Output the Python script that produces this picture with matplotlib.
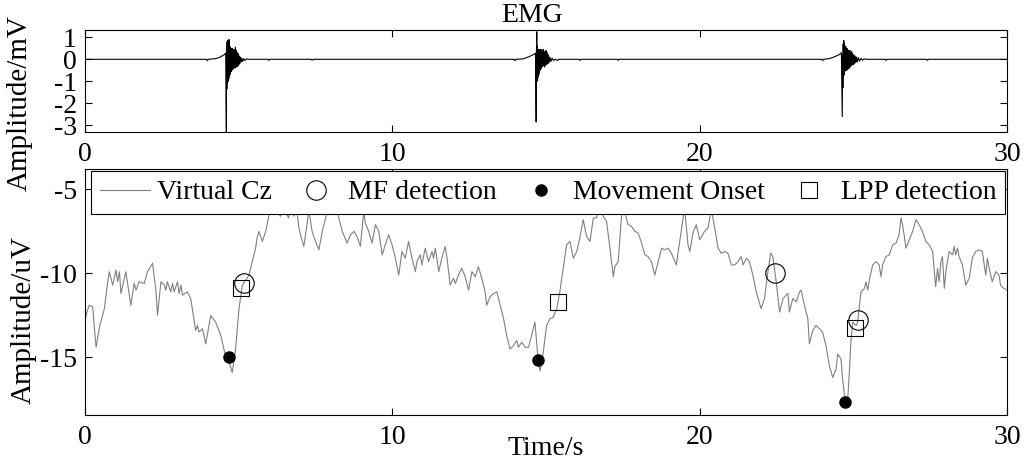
import matplotlib
matplotlib.use("Agg")
import matplotlib.pyplot as plt

plt.rcParams['font.family'] = ['Liberation Serif', 'DejaVu Serif']
plt.rcParams['axes.unicode_minus'] = False

# ---------------- Virtual Cz (time s, amplitude uV) ----------------
cz_t = [0.00, 0.08, 0.14, 0.25, 0.36, 0.47, 0.63, 0.74, 0.79, 0.90, 1.01, 1.06, 1.12, 1.17, 1.33, 1.44, 1.49,
        1.60, 1.66, 1.76, 1.93, 2.03, 2.20, 2.31, 2.36, 2.47, 2.58, 2.63, 2.68, 2.79, 2.85, 2.90, 3.01, 3.06,
        3.12, 3.17, 3.33, 3.44, 3.60, 3.66, 3.71, 3.82, 3.93, 4.09, 4.25, 4.42, 4.58, 4.69, 4.79, 4.90, 5.01,
        5.12, 5.23, 5.34, 5.44, 5.55, 5.61, 5.66, 5.77, 5.88, 5.99, 6.10, 6.25, 6.36, 6.45, 6.55, 6.62, 6.70,
        6.80, 6.88, 6.96, 7.01, 7.12, 7.23, 7.28, 7.39, 7.50, 7.61, 7.72, 7.83, 7.95, 8.04, 8.15, 8.26, 8.37,
        8.53, 8.64, 8.75, 8.85, 8.96, 9.07, 9.12, 9.23, 9.34, 9.45, 9.56, 9.67, 9.77, 9.88, 9.99, 10.10, 10.21,
        10.31, 10.42, 10.53, 10.64, 10.75, 10.80, 10.91, 10.96, 11.07, 11.18, 11.29, 11.34, 11.40, 11.51, 11.61,
        11.72, 11.78, 11.88, 11.99, 12.05, 12.15, 12.26, 12.37, 12.48, 12.59, 12.70, 12.80, 12.91, 13.02, 13.07,
        13.18, 13.29, 13.40, 13.51, 13.62, 13.72, 13.83, 13.94, 14.05, 14.10, 14.21, 14.32, 14.43, 14.53, 14.64,
        14.75, 14.81, 14.91, 15.02, 15.13, 15.24, 15.35, 15.45, 15.56, 15.67, 15.78, 15.89, 16.00, 16.10, 16.21,
        16.32, 16.43, 16.54, 16.64, 16.75, 16.86, 16.97, 17.08, 17.19, 17.24, 17.35, 17.46, 17.52, 17.57, 17.67,
        17.78, 17.89, 18.00, 18.11, 18.22, 18.32, 18.43, 18.54, 18.65, 18.76, 18.86, 18.97, 19.08, 19.24, 19.35,
        19.51, 19.62, 19.68, 19.78, 19.89, 20.00, 20.16, 20.27, 20.38, 20.49, 20.60, 20.70, 20.81, 20.92, 21.03,
        21.14, 21.25, 21.35, 21.41, 21.52, 21.62, 21.73, 21.84, 22.00, 22.11, 22.22, 22.31, 22.38, 22.49, 22.60,
        22.71, 22.81, 22.87, 22.92, 23.03, 23.14, 23.25, 23.30, 23.41, 23.52, 23.57, 23.68, 23.79, 23.90, 24.00,
        24.11, 24.22, 24.33, 24.44, 24.49, 24.60, 24.65, 24.71, 24.76, 24.82, 24.87, 24.92, 24.98, 25.09, 25.14,
        25.20, 25.25, 25.36, 25.41, 25.47, 25.52, 25.63, 25.74, 25.84, 25.90, 25.95, 26.06, 26.17, 26.28, 26.39,
        26.49, 26.55, 26.60, 26.66, 26.71, 26.82, 26.93, 27.04, 27.14, 27.25, 27.36, 27.47, 27.58, 27.68, 27.74,
        27.79, 27.85, 27.90, 27.96, 28.01, 28.06, 28.12, 28.23, 28.28, 28.33, 28.39, 28.44, 28.55, 28.66, 28.77,
        28.87, 28.98, 29.09, 29.20, 29.25, 29.31, 29.36, 29.42, 29.47, 29.52, 29.63, 29.74, 29.79, 29.90, 30.00]
cz_v = [-12.8, -12.2, -11.9, -12.0, -14.4, -13.2, -12.1, -10.5, -9.9, -10.7, -9.8, -10.5, -9.9, -11.2, -9.9, -11.3, -11.9,
        -10.6, -11.0, -10.5, -10.6, -9.9, -9.4, -11.1, -12.5, -10.5, -10.7, -11.0, -10.5, -11.1, -10.6, -11.1, -10.5, -11.2,
        -10.7, -11.3, -11.1, -11.5, -13.4, -13.1, -13.5, -13.3, -14.2, -12.5, -12.9, -13.7, -15.0, -15.3, -15.9, -14.5, -12.1,
        -10.7, -10.4, -10.1, -9.3, -8.5, -7.8, -7.5, -8.1, -7.5, -6.5, -5.9, -6.3, -6.6, -6.0, -6.4, -6.7, -6.1,
        -6.6, -6.0, -7.3, -7.7, -8.4, -7.0, -6.2, -7.5, -8.1, -8.6, -7.5, -6.7, -6.0, -6.3, -5.9, -6.7, -7.5,
        -8.2, -7.7, -7.5, -7.8, -8.4, -6.3, -7.0, -7.5, -8.2, -7.1, -7.5, -8.9, -8.3, -7.7, -8.3, -9.1, -10.1,
        -8.7, -9.1, -8.1, -9.1, -9.9, -9.3, -8.9, -9.5, -8.5, -9.3, -8.7, -9.1, -8.5, -9.9, -9.1,
        -8.4, -9.1, -10.7, -10.3, -10.6, -10.1, -9.7, -10.2, -11.0, -9.9, -10.2, -9.6, -10.3, -11.1, -11.9,
        -11.4, -11.2, -11.1, -11.9, -12.7, -13.7, -14.5, -14.3, -14.0, -14.4, -14.1, -14.4, -14.4, -13.7, -12.9,
        -15.3, -15.8, -14.7, -13.1, -12.7, -12.6, -12.1, -11.1, -9.7, -8.3, -8.1, -9.1, -8.7, -7.9, -6.8,
        -7.8, -8.1, -6.7, -6.7, -6.0, -6.6, -6.9, -8.5, -10.2, -9.6, -9.3, -6.5, -6.0, -6.4, -7.1,
        -7.2, -7.5, -7.6, -8.2, -8.9, -9.0, -9.3, -10.1, -9.3, -8.5, -8.6, -8.5, -8.8, -9.5, -8.1,
        -6.1, -8.3, -8.7, -7.6, -7.1, -8.0, -7.5, -7.3, -6.2, -7.3, -8.5, -8.8, -8.7, -8.8, -9.5,
        -9.5, -9.3, -9.0, -9.5, -9.1, -9.3, -10.1, -11.1, -12.1, -11.5, -9.9, -8.8, -9.0, -10.5, -12.3,
        -11.5, -11.3, -11.2, -12.3, -11.5, -11.7, -11.1, -11.0, -11.9, -12.7, -14.2, -13.4, -13.1, -13.3, -13.5,
        -14.3, -15.5, -16.2, -15.7, -14.8, -15.1, -16.3, -17.2, -17.7, -17.4, -15.9, -14.1, -12.9, -13.1, -12.9,
        -11.9, -11.1, -10.9, -10.5, -11.0, -10.4, -9.5, -9.3, -9.5, -10.2, -9.5, -9.0, -8.9, -8.3, -8.2,
        -7.7, -6.7, -7.1, -7.8, -8.5, -8.0, -7.5, -6.8, -7.1, -7.5, -8.1, -8.3, -8.7, -10.8, -9.7,
        -10.5, -9.3, -9.0, -10.9, -9.9, -9.3, -8.7, -8.9, -8.4, -8.9, -8.5, -9.0, -9.5, -10.7, -10.3,
        -9.1, -8.7, -8.6, -8.7, -9.4, -10.1, -9.1, -9.7, -10.1, -10.5, -9.9, -10.1, -10.7, -10.9, -11.0]

# ---------------- detections ----------------
mf_t = [5.17, 22.44, 25.14]
mf_v = [-10.6, -10.0, -12.8]
onset_t = [4.68, 14.75, 24.74]
onset_v = [-14.96, -15.16, -17.68]
lpp_t = [5.06, 15.38, 25.06]
lpp_v = [-10.85, -11.69, -13.27]

# ---------------- EMG (time s, amplitude mV) ----------------
emg_pts = [
    (0.00, 0.0), (3.95, 0.0), (3.98, -0.06), (4.01, 0.0), (4.25, 0.03), (4.40, 0.10), (4.52, 0.20), (4.58, 0.28),
    (4.600, -3.5), (4.605, 0.60), (4.615, -1.35), (4.625, 0.80), (4.635, -1.10), (4.645, 0.85), (4.655, -1.00),
    (4.665, 0.70), (4.675, -0.90), (4.685, 0.90), (4.695, -0.80), (4.705, 0.60), (4.715, -0.70), (4.725, 0.55),
    (4.735, -0.60), (4.745, 0.50), (4.755, -0.55), (4.765, 0.45), (4.775, -0.50), (4.785, 0.50), (4.795, -0.40),
    (4.805, 0.40), (4.815, -0.45), (4.825, 0.35), (4.835, -0.40), (4.845, 0.45), (4.855, -0.35), (4.865, 0.30),
    (4.880, -0.40), (4.895, 0.55), (4.910, -0.30), (4.925, 0.40), (4.940, -0.35), (4.955, 0.30), (4.970, -0.30),
    (4.985, 0.25), (5.000, -0.25), (5.020, 0.15), (5.040, -0.20), (5.060, 0.10), (5.080, -0.12), (5.100, 0.05),
    (5.130, -0.10), (5.160, 0.03), (5.200, -0.05), (5.250, 0.02), (5.300, 0.0), (5.95, 0.0), (5.98, -0.05),
    (6.01, 0.0), (7.36, 0.0), (7.39, -0.04), (7.42, 0.0),
    (13.96, 0.0), (13.99, -0.06), (14.02, 0.0), (14.26, 0.02), (14.45, 0.12), (14.60, 0.22), (14.66, 0.28),
    (14.680, -2.85), (14.690, 0.40), (14.700, 1.25), (14.705, -1.00), (14.715, 0.60), (14.725, -0.95),
    (14.735, 0.45), (14.745, -0.80), (14.755, 0.40), (14.765, -0.70), (14.775, 0.45), (14.785, -0.60),
    (14.795, 0.35), (14.805, -0.50), (14.815, 0.40), (14.825, -0.45), (14.835, 0.45), (14.845, -0.40),
    (14.855, 0.30), (14.865, -0.35), (14.880, 0.40), (14.895, -0.30), (14.910, 0.45), (14.925, -0.30),
    (14.940, 0.35), (14.955, -0.35), (14.970, 0.30), (14.985, -0.25), (15.000, 0.40), (15.020, -0.25),
    (15.040, 0.30), (15.060, -0.20), (15.080, 0.20), (15.100, -0.15), (15.130, 0.10), (15.160, -0.10),
    (15.200, 0.05), (15.250, -0.05), (15.300, 0.0), (15.38, -0.05), (15.42, 0.0), (16.07, 0.0), (16.10, -0.05),
    (16.13, 0.0), (17.32, 0.0), (17.35, -0.05), (17.38, 0.0),
    (23.97, 0.0), (24.00, -0.06), (24.03, 0.0), (24.22, 0.03), (24.40, 0.12), (24.55, 0.22), (24.61, 0.30),
    (24.625, -1.00), (24.640, -2.60), (24.650, 0.20), (24.660, -1.30), (24.670, 0.70), (24.680, -0.80),
    (24.690, 0.85), (24.700, -0.70), (24.710, 0.70), (24.720, -0.55), (24.730, 0.55), (24.740, -0.50),
    (24.750, 0.60), (24.760, -0.45), (24.770, 0.45), (24.780, -0.50), (24.790, 0.50), (24.800, -0.40),
    (24.810, 0.45), (24.820, -0.45), (24.830, 0.40), (24.840, -0.40), (24.855, 0.35), (24.870, -0.40),
    (24.885, 0.40), (24.900, -0.35), (24.915, 0.30), (24.930, -0.30), (24.945, 0.35), (24.960, -0.25),
    (24.980, 0.25), (25.000, -0.25), (25.020, 0.20), (25.040, -0.20), (25.060, 0.15), (25.080, -0.15),
    (25.100, 0.10), (25.130, -0.12), (25.160, 0.08), (25.200, -0.08), (25.250, 0.04), (25.300, -0.04),
    (25.350, 0.02), (25.420, 0.0), (26.03, 0.0), (26.06, -0.05), (26.09, 0.0), (27.38, 0.0), (27.41, -0.05),
    (27.44, 0.0), (30.00, 0.0),
]
emg_t = [p[0] for p in emg_pts]
emg_v = [p[1] for p in emg_pts]

FS = 20
FSL = 21
W, H = 1026, 462
fig = plt.figure(figsize=(W / 100, H / 100), dpi=100)
ax1 = fig.add_axes([85 / W, 1 - 132 / H, 922 / W, 102 / H])
ax2 = fig.add_axes([85 / W, 1 - 415 / H, 922 / W, 246 / H])

ax1.plot(emg_t, emg_v, color='black', lw=0.8)
ax1.set_xlim(0, 30)
ax1.set_ylim(-3.3, 1.33)
ax1.set_xticks([0, 10, 20, 30])
ax1.set_yticks([-3, -2, -1, 0, 1])
ax1.set_title('EMG', fontsize=FS, pad=6, x=0.485)
ax1.set_ylabel('Amplitude/mV', fontsize=FSL)
ax1.yaxis.set_label_coords(-0.0564, 0.284)

ax2.plot(cz_t, cz_v, color='#808080', lw=0.8, label='Virtual Cz')
ax2.plot(mf_t, mf_v, 'o', mfc='none', mec='black', ms=14, mew=0.8, label='MF detection')
ax2.plot(onset_t, onset_v, 'o', color='black', ms=8, label='Movement Onset')
ax2.plot(lpp_t, lpp_v, 's', mfc='none', mec='black', ms=12, mew=0.8, label='LPP detection')
ax2.set_xlim(0, 30)
ax2.set_ylim(-18.43, -3.79)
ax2.set_xticks([0, 10, 20, 30])
ax2.set_yticks([-15, -10, -5])
ax2.set_xlabel('Time/s', fontsize=FS, labelpad=-10)
ax2.set_ylabel('Amplitude/uV', fontsize=FSL)
ax2.yaxis.set_label_coords(-0.052, 0.386)

for ax in (ax1, ax2):
    ax.tick_params(direction='in', top=True, right=True, length=5, width=0.8, labelsize=FS)
    ax.tick_params(axis='x', pad=7)
    ax.tick_params(axis='y', pad=6)
    for s in ax.spines.values():
        s.set_linewidth(0.8)

leg = ax2.legend(ncol=4, loc='upper center', bbox_to_anchor=(0.5025, 0.99), fontsize=FS,
                 frameon=True, fancybox=False, framealpha=1, edgecolor='black',
                 handlelength=1.8, handletextpad=0.25, columnspacing=0.7, borderpad=0.3,
                 borderaxespad=0.0)
leg.get_frame().set_linewidth(0.8)

fig.savefig('out.png', dpi=100)
